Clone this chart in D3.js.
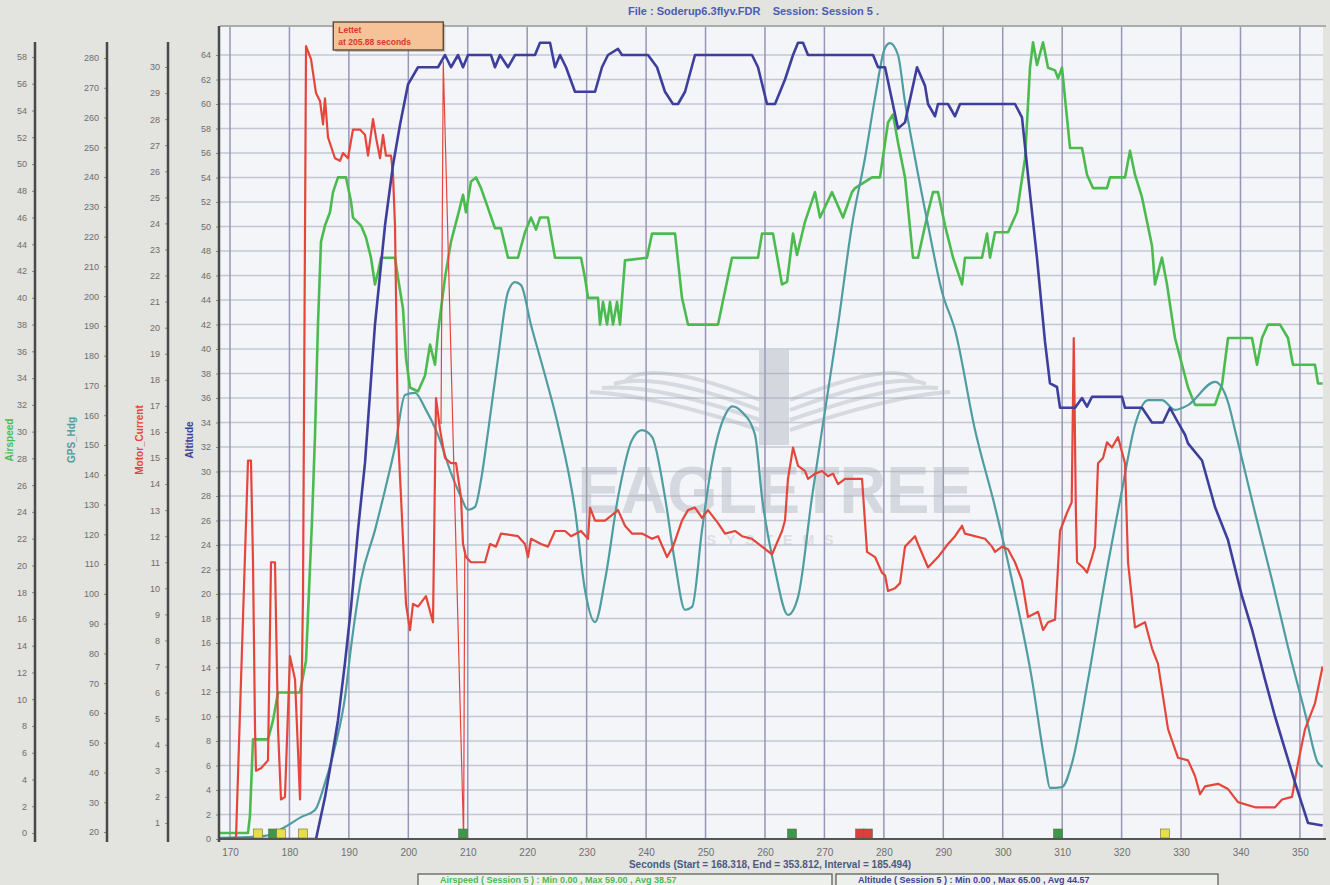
<!DOCTYPE html>
<meta charset="utf-8">
<script src="https://d3js.org/d3.v7.min.js"></script>
<style>
body { margin:0; background:#e3e3e0; }
text { font-family:"Liberation Sans", Arial, sans-serif; }
</style>
<div id="my_chart"></div>
<script>

// ---- data (time in seconds) ----
var airspeed = [[168.32,0],[173.03,0],[173.36,1.3],[173.87,7.0],[176.39,7.0],[177.23,8.4],[178.08,10.5],[181.78,10.5],[182.79,12.9],[183.8,23.4],[184.3,29.7],[184.8,38.0],[185.31,44.2],[185.98,45.4],[186.82,46.4],[187.33,47.9],[188.17,49.0],[189.52,49.0],[190.36,47.2],[190.69,46.0],[192.04,45.4],[192.88,44.5],[193.72,43.0],[194.39,41.0],[194.9,41.9],[195.4,43.0],[197.76,43.0],[198.26,41.5],[199.1,39.2],[199.61,35.5],[200.28,33.3],[201.63,33.0],[202.81,34.2],[203.65,36.5],[204.49,35.0],[204.99,37.4],[206.17,41.5],[207.18,44.2],[208.36,46.2],[209.2,47.7],[209.7,46.4],[210.54,48.7],[211.39,49.0],[212.23,48.2],[213.41,46.7],[214.58,45.2],[215.59,45.2],[216.77,43.0],[218.45,43.0],[219.63,44.9],[220.64,46.0],[221.48,45.1],[222.15,46.0],[223.5,46.0],[224.68,43.0],[229.05,43.0],[229.72,41.5],[230.23,40.0],[231.91,40.0],[232.25,38.0],[232.75,39.7],[233.43,38.0],[233.93,39.7],[234.43,38.0],[235.11,39.7],[235.61,38.0],[236.45,42.8],[240.15,43.0],[241.0,44.8],[244.87,44.8],[246.04,40.0],[247.05,38.0],[252.1,38.0],[254.45,43.0],[258.83,43.0],[259.5,44.8],[261.35,44.8],[262.87,41.0],[263.71,41.2],[264.72,44.8],[265.39,43.2],[266.74,45.7],[268.42,47.9],[269.26,46.0],[271.28,47.9],[273.13,46.0],[274.64,47.9],[275.15,48.2],[278.01,49.0],[279.35,49.0],[280.7,53.1],[281.54,53.7],[282.38,51.6],[283.56,49.0],[284.9,43.0],[285.75,43.0],[287.43,46.4],[288.27,47.9],[289.11,47.9],[290.29,45.4],[291.64,43.0],[293.15,41.0],[293.65,43.0],[296.51,43.0],[297.36,44.8],[297.86,43.0],[298.7,44.9],[300.89,44.9],[302.4,46.4],[303.75,50.4],[304.59,57.2],[305.09,59.1],[305.77,57.4],[306.78,59.1],[307.62,57.2],[308.8,57.0],[309.3,56.4],[309.97,57.2],[310.48,54.9],[311.32,51.2],[313.34,51.2],[314.18,49.2],[315.19,48.2],[317.54,48.2],[318.05,49.0],[320.57,49.0],[321.41,51.0],[322.25,49.2],[323.43,47.5],[324.27,45.7],[325.11,43.9],[325.61,41.0],[326.79,43.0],[327.64,41.0],[328.98,37.0],[331.17,33.3],[332.35,32.0],[335.71,32.0],[336.89,33.5],[337.9,37.0],[341.94,37.0],[342.78,35.0],[343.62,37.0],[344.63,38.0],[346.65,38.0],[347.99,37.0],[348.83,35.0],[352.53,35.0],[353.04,33.6],[353.81,33.6]];

var altitude = [[168.32,0],[184.47,0],[185.98,3.4],[186.99,6.2],[188.17,9.7],[189.35,14.4],[190.36,18.9],[191.53,25.2],[192.71,30.7],[194.39,42.0],[196.08,50.1],[197.42,55.0],[198.6,58.3],[199.95,61.6],[201.63,63],[204.99,63],[206.17,64],[207.18,63],[208.36,64],[209.2,63],[210.04,64],[213.91,64],[214.58,63],[215.42,64],[216.77,63],[217.95,64],[221.31,64],[222.15,65],[223.84,65],[224.68,63],[225.52,64],[226.53,63],[228.04,61],[231.41,61],[232.58,63],[233.59,64],[235.28,64.5],[235.95,64],[240.32,64],[241.84,63],[243.18,61],[244.53,60],[245.37,60],[246.55,61],[248.23,64],[257.82,64],[258.83,63],[260.34,60],[261.69,60],[263.37,62],[264.72,64],[265.56,65],[266.4,65],[267.24,64],[278.18,64],[279.02,63],[280.2,63],[282.38,58],[283.56,58.5],[285.58,63],[286.92,61.5],[287.43,60],[288.61,59],[289.11,60],[290.79,60],[291.97,59],[292.81,60],[302.06,60],[303.24,58.9],[304.25,54.2],[305.77,47.4],[307.11,40.6],[307.95,37.2],[309.13,36.9],[309.64,35.2],[312.16,35.2],[313.34,36],[314.18,35.3],[315.02,36.1],[320.07,36.1],[320.57,35.2],[323.43,35.2],[325.11,34],[326.96,34],[328.14,35.2],[329.49,34],[330.67,33],[331.17,32.3],[333.53,30.9],[335.71,27.1],[337.9,24.4],[340.26,19.8],[341.94,17.1],[344.13,13],[345.81,10],[347.49,7.3],[349.18,4.6],[351.37,1.3],[353.81,1.1]];

var gpsHdg = [[168.32,18],[175.89,18.7],[179.25,21.7],[181.94,25],[184.3,27.4],[185.98,36.5],[187.66,48.6],[189.35,65.3],[190.36,82.1],[192.04,104.6],[194.39,121.4],[196.08,134.9],[197.76,149.3],[199.44,166.8],[201.12,167.5],[202.81,162.4],[204.99,153.4],[207.18,140.6],[208.86,132.5],[210.04,128.2],[211.22,129.2],[212.23,138.2],[213.41,154.4],[215.09,179.2],[216.77,201.4],[217.95,204.7],[218.96,203.7],[220.64,190.3],[222.99,173.5],[225.18,156.7],[228.04,128.2],[229.72,101.3],[231.41,90.5],[233.09,104.6],[235.28,132.5],[237.63,151.7],[239.31,155],[241.0,152.7],[243.18,132.5],[244.87,110.4],[246.55,94.6],[247.73,95.6],[249.41,121.4],[251.09,144],[253.28,160],[254.5,163],[256.14,161.1],[258.32,153.4],[259.5,132.5],[261.69,108],[263.87,92.9],[265.56,98.9],[267.91,132.5],[269.6,155],[272.29,190.3],[274.64,223.9],[276.83,246.4],[278.51,266.6],[280.2,283.4],[281.04,285],[282.38,281],[283.56,265.2],[285.24,246.4],[287.43,223.9],[289.79,201.4],[291.97,188.6],[295.34,155],[298.7,129.2],[301.56,104.6],[304.93,71.1],[307.11,43.2],[307.95,34.8],[309.97,35.1],[311.66,43.2],[314.35,71.1],[317.21,104.6],[320.07,134.9],[322.25,156.7],[324.44,165.1],[326.79,165.1],[328.98,161.8],[331.17,163.4],[335.71,171.2],[337.9,164.4],[339.08,155],[342.45,127.2],[345.31,104.6],[348.0,82.1],[350.86,60],[353.04,43.2],[353.81,41.8]];

var motorCurrent = [[168.32,0.35],[171.01,0.42],[173.03,14.9],[173.53,14.9],[173.87,11],[174.21,4.6],[174.37,3.0],[175.22,3.1],[176.39,3.4],[176.9,11],[177.57,11],[178.08,4.6],[178.58,1.9],[179.25,2.0],[180.09,7.4],[180.94,6.5],[181.78,1.9],[182.28,9.7],[182.79,30.8],[183.63,30.3],[184.47,29.0],[185.14,28.7],[185.65,27.8],[185.98,28.8],[186.49,27.3],[187.66,26.5],[188.51,26.4],[189.01,26.7],[189.85,26.5],[190.69,27.6],[191.87,27.6],[192.71,27.4],[193.22,26.6],[194.06,28.0],[194.56,27.3],[195.24,26.5],[195.74,27.4],[196.24,26.6],[197.09,26.6],[197.42,25.9],[197.76,23.9],[198.26,15.9],[198.77,13.5],[199.61,9.4],[200.28,8.4],[200.79,9.4],[201.63,9.3],[202.97,9.7],[204.15,8.7],[204.66,17.3],[205.33,16.1],[206.17,15.0],[207.18,14.8],[208.02,14.8],[208.86,13.5],[209.2,11.7],[209.7,11.2],[210.54,11.0],[212.9,11.0],[213.74,11.7],[214.75,11.6],[215.59,12.1],[218.45,12.0],[219.63,11.7],[220.13,11.2],[220.64,11.9],[222.32,11.7],[223.5,11.6],[224.68,12.2],[226.36,12.2],[227.37,12.0],[229.05,12.2],[230.23,11.9],[230.57,13.1],[231.41,12.6],[233.09,12.6],[234.77,12.9],[235.28,13.0],[236.45,12.4],[237.63,12.1],[239.31,12.1],[241.0,11.9],[242.01,12.0],[243.52,11.2],[244.53,11.6],[246.04,12.6],[247.05,13.0],[248.23,13.1],[249.41,12.7],[250.42,13.0],[252.1,12.5],[253.28,12.1],[254.96,12.2],[256.14,12.0],[257.82,11.9],[259.5,11.6],[261.18,11.3],[262.87,12.2],[263.37,12.6],[263.87,14.2],[264.72,15.4],[265.56,14.7],[266.74,14.5],[267.24,14.2],[268.42,14.4],[269.6,14.5],[270.61,14.3],[271.45,14.4],[272.29,14.0],[273.47,14.2],[276.33,14.2],[277.17,11.4],[278.51,11.2],[279.69,10.6],[280.2,10.5],[280.7,9.9],[281.88,10.0],[282.72,10.2],[283.56,11.6],[285.24,12.0],[285.75,11.7],[287.43,10.8],[289.11,11.2],[290.79,11.7],[291.97,12.0],[293.15,12.4],[293.65,12.1],[297.02,11.9],[298.2,11.6],[298.7,11.4],[299.88,11.6],[300.89,11.5],[302.06,11.0],[303.24,10.3],[304.25,8.9],[305.94,9.1],[306.78,8.4],[307.62,8.7],[308.8,8.8],[309.64,12.2],[310.81,12.9],[311.6,13.3],[311.95,19.6],[312.3,13.0],[312.5,11.0],[313.51,10.8],[314.18,10.6],[315.02,11.2],[315.52,11.6],[316.03,14.8],[316.87,15.0],[317.54,15.6],[318.38,15.4],[319.39,15.8],[320.57,14.8],[321.08,11.0],[322.25,8.5],[323.94,8.7],[325.11,7.7],[326.12,7.1],[327.81,4.6],[329.49,3.5],[331.17,3.4],[332.35,2.8],[333.19,2.1],[334.03,2.4],[336.22,2.5],[337.9,2.3],[339.58,1.8],[342.45,1.6],[345.81,1.6],[346.99,1.9],[348.67,2.0],[349.68,3.3],[350.86,4.6],[352.54,5.6],[353.81,7.0]];

// thin spike under the tooltip
var cursorSpike = [[205.5,16.3],[205.88,30.2],[209.3,0.4],[209.5,11.5]];
var cursorT = 205.88;

// event markers along the bottom
var eventT = [174.71,177.23,178.58,182.28,209.2,264.55,275.99,277.33,309.3,327.3];
var eventColor = ["#e6df4a","#3a9a4a","#e6df4a","#e6df4a","#3a9a4a","#3a9a4a","#d9423c","#d9423c","#3a9a4a","#e6df4a"];

var xTicks = d3.range(170, 351, 10);
var spdTicks = d3.range(0, 59, 2);
var hdgTicks = d3.range(20, 281, 10);
var curTicks = d3.range(1, 31, 1);
var altTicks = d3.range(0, 65, 2);

var titleText = "File : Soderup6.3flyv.FDR    Session: Session 5 .";
var xLabel = "Seconds (Start = 168.318, End = 353.812, Interval = 185.494)";
var legendText = ["Airspeed ( Session 5 ) : Min 0.00 , Max 59.00 , Avg 38.57",
                  "Altitude ( Session 5 ) : Min 0.00 , Max 65.00 , Avg 44.57"];

// colours
var cSpd = "#4cbb4f", cHdg = "#4f9da0", cCur = "#e4463b", cAlt = "#3e3f9c";

var W = 1330, H = 885;
var plot = {left:220, right:1323, top:27, bottom:839};

var svg = d3.select("#my_chart").append("svg")
  .attr("width", W).attr("height", H);

svg.append("rect").attr("width", W).attr("height", H).attr("fill", "#e3e3e0");
svg.append("rect")
  .attr("x", plot.left).attr("y", plot.top)
  .attr("width", plot.right - plot.left).attr("height", plot.bottom - plot.top)
  .attr("fill", "#f3f5f9");

// scales
var x = d3.scaleLinear().domain([168.318, 353.812]).range([220, 1322.6]);
var yAlt = d3.scaleLinear().domain([0, 64]).range([839, 55]);
var ySpd = d3.scaleLinear().domain([0, 58]).range([833, 57]);
var yCur = d3.scaleLinear().domain([0, 30]).range([849, 67]);
var yHdg = d3.scaleLinear().domain([20, 280]).range([832, 58]);

// grid
svg.append("g").selectAll("line")
  .data(altTicks.filter(function(d){ return d > 0; }))
  .enter().append("line")
  .attr("x1", plot.left).attr("x2", plot.right)
  .attr("y1", function(d){ return yAlt(d); }).attr("y2", function(d){ return yAlt(d); })
  .attr("stroke", "#c3c7d3").attr("stroke-width", 1.4);

svg.append("g").selectAll("line")
  .data(xTicks)
  .enter().append("line")
  .attr("x1", function(d){ return x(d); }).attr("x2", function(d){ return x(d); })
  .attr("y1", plot.top).attr("y2", plot.bottom)
  .attr("stroke", "#9796b5").attr("stroke-width", 1.5);

// watermark
var wm = svg.append("g").attr("opacity", 0.38);
var wmx = 775;
[0,1,2,3].forEach(function(i){
  wm.append("path")
    .attr("d", "M" + (wmx - 15) + "," + (430 - i*10) + " Q" + (wmx - 120) + "," + (395 - i*12) + " " + (wmx - 185 + i*12) + "," + (392 - i*4))
    .attr("fill", "none").attr("stroke", "#a9adb6").attr("stroke-width", 4);
  wm.append("path")
    .attr("d", "M" + (wmx + 15) + "," + (430 - i*10) + " Q" + (wmx + 120) + "," + (395 - i*12) + " " + (wmx + 175 - i*12) + "," + (392 - i*4))
    .attr("fill", "none").attr("stroke", "#a9adb6").attr("stroke-width", 4);
});
wm.append("rect").attr("x", wmx - 16).attr("y", 350).attr("width", 30).attr("height", 95)
  .attr("fill", "#a4a8b2");
wm.append("text").attr("x", wmx).attr("y", 513)
  .attr("text-anchor", "middle").attr("font-size", 66).attr("font-weight", "bold")
  .attr("textLength", 395).attr("lengthAdjust", "spacingAndGlyphs")
  .attr("fill", "#a6aab3").text("EAGLETREE");
wm.append("text").attr("x", wmx).attr("y", 545)
  .attr("text-anchor", "middle").attr("font-size", 14).attr("font-weight", "bold")
  .attr("letter-spacing", 10).attr("fill", "#b8bbc2").text("SYSTEMS");

// clip for the traces
svg.append("clipPath").attr("id", "clip").append("rect")
  .attr("x", plot.left).attr("y", plot.top)
  .attr("width", plot.right - plot.left).attr("height", plot.bottom - plot.top);

var traces = svg.append("g").attr("clip-path", "url(#clip)");

function addLine(data, yScale, color, w, curve) {
  var line = d3.line()
    .x(function(d){ return x(d[0]); })
    .y(function(d){ return yScale(d[1]); })
    .curve(curve || d3.curveLinear);
  traces.append("path").datum(data)
    .attr("d", line).attr("fill", "none")
    .attr("stroke", color).attr("stroke-width", w)
    .attr("stroke-linejoin", "round");
}

addLine(airspeed, ySpd, cSpd, 2.6);
addLine(gpsHdg, yHdg, cHdg, 2.2, d3.curveMonotoneX);
addLine(cursorSpike, yCur, cCur, 1.2);
addLine(motorCurrent, yCur, cCur, 2.2);
addLine(altitude, yAlt, cAlt, 2.6);

// event markers
svg.append("g").selectAll("rect")
  .data(eventT)
  .enter().append("rect")
  .attr("x", function(d){ return x(d) - 4.5; })
  .attr("y", 829).attr("width", 9).attr("height", 9)
  .attr("fill", function(d, i){ return eventColor[i]; })
  .attr("stroke", "#6a6a4a").attr("stroke-width", 0.6);

// plot frame
svg.append("line").attr("x1", plot.left).attr("x2", 1326)
  .attr("y1", plot.top - 1).attr("y2", plot.top - 1)
  .attr("stroke", "#9a9a9a").attr("stroke-width", 1.5);
svg.append("line").attr("x1", 218).attr("x2", 1326)
  .attr("y1", plot.bottom).attr("y2", plot.bottom)
  .attr("stroke", "#555").attr("stroke-width", 2);

// bottom axis
var xAxis = svg.append("g")
  .attr("transform", "translate(0," + plot.bottom + ")")
  .call(d3.axisBottom(x).tickValues(xTicks).tickSize(0).tickPadding(10));
xAxis.select(".domain").remove();
xAxis.selectAll("text").attr("fill", "#707070").attr("font-size", 10);

svg.append("text").attr("x", 770).attr("y", 868)
  .attr("text-anchor", "middle").attr("font-size", 10).attr("font-weight", 600)
  .attr("fill", "#4c5a7e").text(xLabel);

// left axes
function leftAxis(xpos, scale, ticks, name, color, labelX) {
  var g = svg.append("g").attr("transform", "translate(" + xpos + ",0)")
    .call(d3.axisLeft(scale).tickValues(ticks).tickSize(3).tickPadding(5));
  g.select(".domain").remove();
  g.selectAll(".tick line").attr("stroke", "#888");
  g.selectAll("text").attr("fill", "#6d6d6d").attr("font-size", 9);
  svg.append("line").attr("x1", xpos).attr("x2", xpos)
    .attr("y1", xpos > 200 ? plot.top - 1 : 42).attr("y2", 842)
    .attr("stroke", "#4a4a4a").attr("stroke-width", 2.5);
  svg.append("text")
    .attr("transform", "translate(" + labelX + ",440) rotate(-90)")
    .attr("text-anchor", "middle").attr("font-size", 10).attr("font-weight", "bold")
    .attr("fill", color).text(name);
}
leftAxis(35, ySpd, spdTicks, "Airspeed", cSpd, 13);
leftAxis(107, yHdg, hdgTicks, "GPS_Hdg", cHdg, 75);
leftAxis(168, yCur, curTicks, "Motor_Current", cCur, 143);
leftAxis(219, yAlt, altTicks, "Altitude", cAlt, 193);

// title
svg.append("text").attr("x", 628).attr("y", 15)
  .attr("font-size", 11).attr("font-weight", "bold")
  .attr("fill", "#4a5db0").attr("xml:space", "preserve").text(titleText);

// tooltip box, right edge on the spike
var tipW = 110;
var tip = svg.append("g").attr("transform", "translate(" + (x(cursorT) - tipW) + ",22)");
tip.append("rect").attr("x", 2).attr("y", 2).attr("width", tipW).attr("height", 28)
  .attr("fill", "#8a7a6a").attr("opacity", 0.4);
tip.append("rect").attr("width", tipW).attr("height", 28)
  .attr("fill", "#f5c397").attr("stroke", "#5d4a3a").attr("stroke-width", 1.4);
tip.append("text").attr("x", 5).attr("y", 11).attr("font-size", 8.5).attr("font-weight", "bold")
  .attr("fill", "#d8382a").text("Lettet");
tip.append("text").attr("x", 5).attr("y", 23).attr("font-size", 8.5).attr("font-weight", "bold")
  .attr("fill", "#d8382a").text("at " + cursorT.toFixed(2) + " seconds");

// legend boxes (cut by the bottom edge as in the screenshot)
var legX = [418, 836], legW = [414, 382], legC = [cSpd, cAlt];
legendText.forEach(function(t, i){
  svg.append("rect").attr("x", legX[i]).attr("y", 874).attr("width", legW[i]).attr("height", 16)
    .attr("fill", "#eef0ec").attr("stroke", "#555").attr("stroke-width", 1.2);
  svg.append("text").attr("x", legX[i] + 22).attr("y", 883)
    .attr("font-size", 9).attr("font-weight", 600).attr("fill", legC[i]).text(t);
});

</script>
